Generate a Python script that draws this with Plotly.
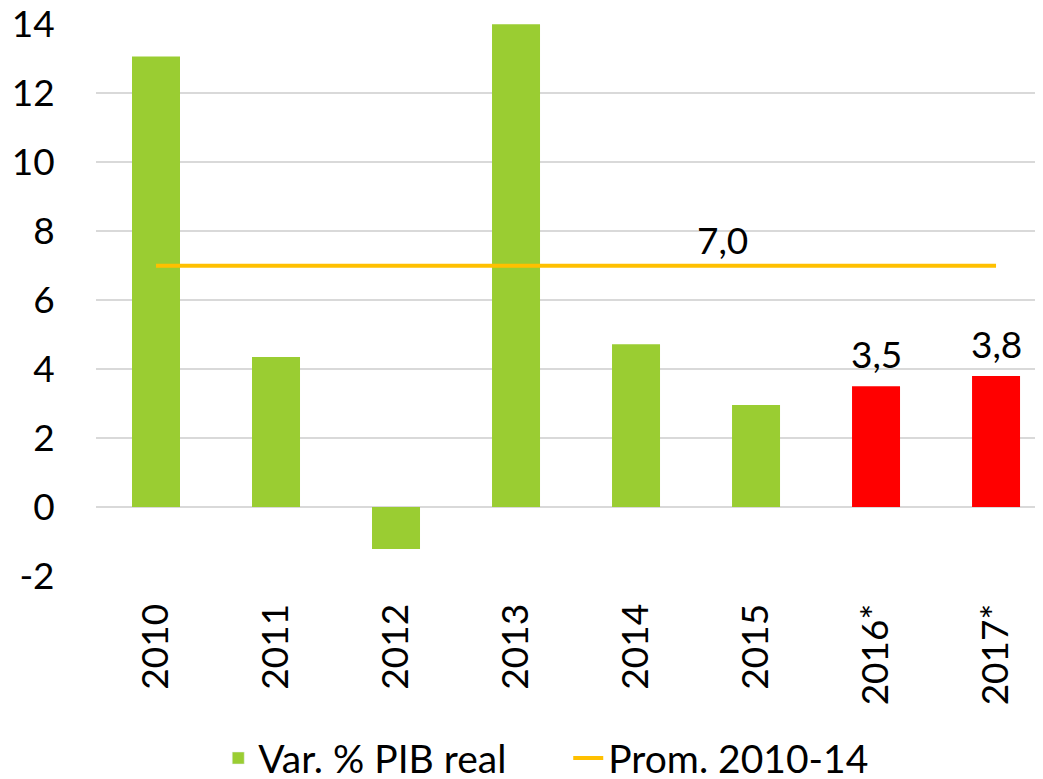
import plotly.graph_objects as go

years = ["2010", "2011", "2012", "2013", "2014", "2015", "2016*", "2017*"]
pib_var = [13.07, 4.35, -1.22, 14.0, 4.72, 2.96, 3.5, 3.8]
bar_colors = ["#9ACD32"] * 6 + ["#FF0000"] * 2
labeled = [False] * 6 + [True] * 2
prom_value = 7.0
prom = [prom_value] * len(years)
y_ticks = [-2, 0, 2, 4, 6, 8, 10, 12, 14]
y_ticktext = [str(v) for v in y_ticks]  # hyphen-minus like the reference

FONT = "Lato, 'Open Sans', sans-serif"
FS = 37

def fmt(v):
    return f"{v:.1f}".replace(".", ",")

fig = go.Figure()
fig.add_trace(go.Bar(
    x=years, y=pib_var, name="Var. % PIB real",
    marker=dict(color=bar_colors, line=dict(width=0)),
    showlegend=False,
))
fig.add_trace(go.Bar(x=[None], y=[None], name="Var. % PIB real",
                     marker=dict(color="#9ACD32"), showlegend=True))
fig.add_trace(go.Scatter(
    x=years, y=prom, mode="lines", name="Prom. 2010-14",
    line=dict(color="#FFC000", width=4),
))
for yr, v, show in zip(years, pib_var, labeled):
    if show:
        fig.add_annotation(x=yr, y=v, text=fmt(v), showarrow=False, yshift=33,
                           yanchor="middle", font=dict(family=FONT, size=FS, color="#000000"))
fig.add_annotation(x=4.717, y=prom_value, text=fmt(prom_value),
                   showarrow=False, yshift=26, yanchor="middle",
                   font=dict(family=FONT, size=FS, color="#000000"))

fig.update_layout(
    width=1043, height=779,
    margin=dict(l=88, r=0, t=16, b=211, autoexpand=False),
    paper_bgcolor="white", plot_bgcolor="white",
    font=dict(family=FONT, size=FS, color="#000000"),
    bargap=0.6,
    legend=dict(orientation="h", x=0.128, xanchor="left", y=-0.330, yanchor="middle",
                font=dict(family=FONT, size=39), tracegroupgap=0, entrywidth=305,
                bgcolor="rgba(0,0,0,0)"),
    xaxis=dict(type="category", range=[-0.5, 7.458], tickangle=-90, automargin=False,
               showgrid=False, showline=False, ticks="outside", ticklen=12,
               tickcolor="rgba(0,0,0,0)", tickfont=dict(family=FONT, size=FS)),
    yaxis=dict(range=[-2, 14.01], tickvals=y_ticks, ticktext=y_ticktext, automargin=False,
               ticklabeloverflow="allow",
               showgrid=True, gridcolor="#D9D9D9", gridwidth=1.5,
               zeroline=True, zerolinecolor="#D9D9D9", zerolinewidth=1.5,
               showline=False, ticks="outside", ticklen=33, tickcolor="rgba(0,0,0,0)",
               tickfont=dict(family=FONT, size=FS)),
)

fig.write_html("out.html")
